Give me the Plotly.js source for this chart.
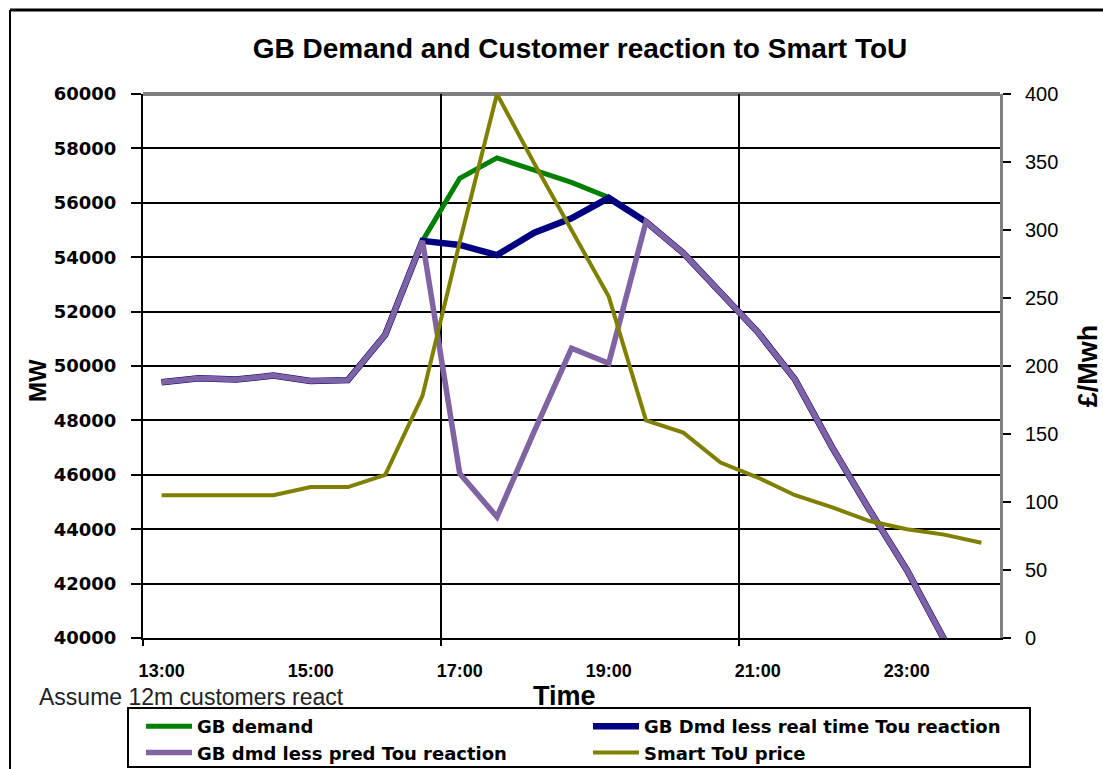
<!DOCTYPE html>
<html>
<head>
<meta charset="utf-8">
<script src="https://cdn.plot.ly/plotly-3.0.1.min.js"></script>
<style>html,body{margin:0;padding:0;background:#fff;}#chart{width:1103px;height:769px;}</style>
</head>
<body>
<div id="chart"></div>
<script>
// Half-hourly categories
var times = ["13:00","13:30","14:00","14:30","15:00","15:30","16:00","16:30","17:00","17:30","18:00","18:30",
             "19:00","19:30","20:00","20:30","21:00","21:30","22:00","22:30","23:00","23:30","24:00"];
var tickLabels = ["13:00","15:00","17:00","19:00","21:00","23:00"];

// MW series
var gbDemand = [49400,49550,49500,49650,49450,49480,51150,54600,56900,57650,57200,56750,
                56200,55300,54150,52700,51250,49500,47000,44700,42500,39950,37800];
var realTimeReaction = [49400,49550,49500,49650,49450,49480,51150,54600,54450,54080,54900,55430,
                56180,55300,54150,52700,51250,49500,47000,44700,42500,39950,37800];
var predReaction = [49400,49550,49500,49650,49450,49480,51150,54600,46050,44450,47600,50650,
                50100,55300,54150,52700,51250,49500,47000,44700,42500,39950,37800];
// £/MWh series
var touPrice = [105,105,105,105,111,111,120,178,291,400,349,300,251,160,151,129,118,105,96,86,80,76,70];

function toHour(t){ var p = t.split(":"); return parseInt(p[0],10) + parseInt(p[1],10)/60; }
var xh = times.map(toHour);
var tickVals = tickLabels.map(toHour);

var FONT = "Liberation Sans, Arial, sans-serif";
var WIDE = "DejaVu Sans, sans-serif";

var traces = [
  {x: xh, y: gbDemand, name: "GB demand", type: "scatter", mode: "lines", legend: "legend",
   line: {color: "#008000", width: 5}},
  {x: xh, y: realTimeReaction, name: "GB Dmd less real time Tou reaction", type: "scatter", mode: "lines",
   legend: "legend2", line: {color: "#000080", width: 6.5}},
  {x: xh, y: predReaction, name: "GB dmd less pred Tou reaction", type: "scatter", mode: "lines",
   legend: "legend", line: {color: "#7F63A3", width: 5.5}},
  {x: xh, y: touPrice, name: "Smart ToU price", type: "scatter", mode: "lines", yaxis: "y2",
   legend: "legend2", line: {color: "#808000", width: 4}}
];

// pixel helpers for decorative frame / text placement
var W = 1103, H = 769;
var L = 143, R = 1000, T = 94, B = 638;
function px(x){ return (x - L) / (R - L); }
function py(y){ return (B - y) / (B - T); }

// each legend is one column of two entries (horizontal legend forced to wrap)
function legendAt(xPix){
  return {
    orientation: "h", xref: "container", x: xPix / W, xanchor: "left",
    yref: "container", y: 1 - 708 / H, yanchor: "top",
    bgcolor: "rgba(0,0,0,0)", borderwidth: 0,
    font: {family: WIDE, size: 18, weight: "bold", color: "#000"},
    itemwidth: 46, entrywidth: 420, traceorder: "normal", tracegroupgap: 0
  };
}

var layout = {
  width: W, height: H,
  margin: {l: L, r: W - R, t: T, b: H - B},
  paper_bgcolor: "#fff", plot_bgcolor: "#fff",
  font: {family: FONT, color: "#000"},
  title: {text: "GB Demand and Customer reaction to Smart ToU",
          font: {family: FONT, size: 28, weight: "bold", color: "#000"},
          xref: "container", x: 580/W, xanchor: "center",
          yref: "container", y: 1 - 48/H, yanchor: "middle"},
  xaxis: {
    type: "linear", range: [12.75, 24.25], fixedrange: true,
    tickmode: "array", tickvals: tickVals, ticktext: tickLabels,
    ticks: "", showgrid: false, zeroline: false,
    showline: true, linecolor: "#000", linewidth: 2,
    tickfont: {family: FONT, size: 18, weight: "bold", color: "#000"},
    ticklabelstandoff: 15,
    minor: {tickmode: "linear", tick0: 12.75, dtick: 4, ticks: "outside", ticklen: 6,
            tickwidth: 2, tickcolor: "#000", showgrid: true, gridcolor: "#000", gridwidth: 2}
  },
  yaxis: {
    range: [40000, 60000], dtick: 2000, tick0: 40000, fixedrange: true, tickformat: "d",
    ticks: "outside", ticklen: 10, tickwidth: 2, tickcolor: "#000",
    showgrid: true, gridcolor: "#000", gridwidth: 2, zeroline: false,
    showline: true, linecolor: "#000", linewidth: 2,
    tickfont: {family: WIDE, size: 18, weight: "bold", color: "#000"},
    ticklabelstandoff: 11
  },
  yaxis2: {
    overlaying: "y", side: "right", range: [0, 400], dtick: 50, tick0: 0, fixedrange: true,
    ticks: "outside", ticklen: 8, tickwidth: 2, tickcolor: "#000",
    showgrid: false, zeroline: false,
    showline: true, linecolor: "#808080", linewidth: 3,
    tickfont: {family: FONT, size: 20, color: "#000"},
    ticklabelstandoff: 10,
    title: {text: "£/Mwh", font: {family: FONT, size: 27, weight: "bold", color: "#000"}, standoff: 22}
  },
  showlegend: true,
  legend: legendAt(141),
  legend2: legendAt(588),
  annotations: [
    {text: "MW", xref: "paper", yref: "paper", x: px(37), y: py(381),
     xanchor: "center", yanchor: "middle", textangle: -90, showarrow: false,
     font: {family: FONT, size: 24, weight: "bold", color: "#000"}},
    {text: "Time", xref: "paper", yref: "paper", x: px(564), y: py(696),
     xanchor: "center", yanchor: "middle", showarrow: false,
     font: {family: FONT, size: 27, weight: "bold", color: "#000"}},
    {text: "Assume 12m customers react", xref: "paper", yref: "paper",
     x: px(37), y: py(697), xanchor: "left", yanchor: "middle", showarrow: false,
     font: {family: FONT, size: 23, color: "#222"}}
  ],
  shapes: [
    {type: "line", xref: "paper", yref: "paper", x0: 0, x1: 1, y0: 1, y1: 1,
     line: {color: "#808080", width: 4}, layer: "between"},
    {type: "rect", xref: "paper", yref: "paper", x0: px(128), x1: px(1030), y0: py(708), y1: py(767),
     line: {color: "#000", width: 2}, fillcolor: "rgba(0,0,0,0)"},
    {type: "line", xref: "paper", yref: "paper", x0: px(10), x1: px(W), y0: py(10), y1: py(10),
     line: {color: "#000", width: 3}},
    {type: "line", xref: "paper", yref: "paper", x0: px(10), x1: px(10), y0: py(10), y1: py(H),
     line: {color: "#000", width: 2}}
  ]
};

Plotly.newPlot("chart", traces, layout, {displayModeBar: false, staticPlot: true});
</script>
</body>
</html>
